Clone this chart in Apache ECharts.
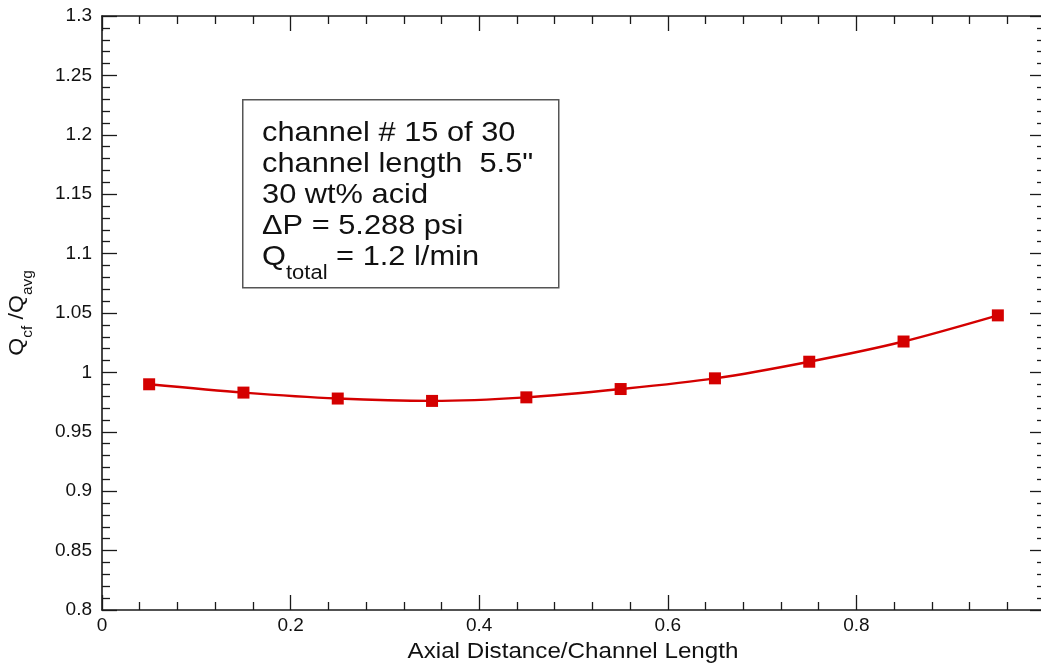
<!DOCTYPE html>
<html>
<head>
<meta charset="utf-8">
<script src="https://cdn.jsdelivr.net/npm/echarts@6/dist/echarts.min.js"></script>
<style>
  html, body { margin: 0; padding: 0; background: #fff; }
  #chart { width: 1041px; height: 668px; }
</style>
</head>
<body>
<div id="chart"></div>
<script>
// Axial positions along the channel (fraction of channel length)
const axialPositions = [0.05, 0.15, 0.25, 0.35, 0.45, 0.55, 0.65, 0.75, 0.85, 0.95];
// Normalised flow rate Qcf/Qavg at each position
const flowRatio = [0.990, 0.983, 0.978, 0.976, 0.979, 0.986, 0.995, 1.009, 1.026, 1.048];
// Notes shown in the annotation box
const noteLines = ['channel # 15 of 30', 'channel length  5.5"', '30 wt% acid', '\u0394P = 5.288 psi'];

const FONT = 'Liberation Sans, Arial, sans-serif';
const AXIS_COLOR = '#1a1a1a';
const STRETCH = 1.1;

const chart = echarts.init(document.getElementById('chart'), null, { renderer: 'canvas' });

function axisCommon(showLabels) {
  return {
    axisLine: { show: true, onZero: false, lineStyle: { color: AXIS_COLOR, width: 1.6 } },
    axisTick: { show: true, inside: true, length: 15, lineStyle: { color: AXIS_COLOR, width: 1.3 } },
    minorTick: { show: true, splitNumber: 5, length: 8, lineStyle: { color: AXIS_COLOR, width: 1.3 } },
    splitLine: { show: false },
    axisLabel: { show: showLabels }
  };
}

const points = axialPositions.map((x, i) => [x, flowRatio[i]]);

const option = {
  backgroundColor: '#fff',
  animation: false,
  grid: { left: 102, top: 16, width: 943, height: 594, containLabel: false, outerBoundsMode: 'none' },
  xAxis: [
    Object.assign(axisCommon(true), {
      type: 'value', min: 0, max: 1, interval: 0.2, position: 'bottom',
      axisLabel: {
        show: true, fontFamily: FONT, fontSize: 19, color: '#111', margin: 6,
        formatter: v => (v === 0 ? '0' : String(+v.toFixed(1)))
      }
    }),
    Object.assign(axisCommon(false), {
      type: 'value', min: 0, max: 1, interval: 0.2, position: 'top'
    })
  ],
  yAxis: [
    Object.assign(axisCommon(true), {
      type: 'value', min: 0.8, max: 1.3, interval: 0.05, position: 'left',
      axisLabel: {
        show: true, fontFamily: FONT, fontSize: 19, color: '#111', margin: 10,
        formatter: v => String(+v.toFixed(2))
      }
    }),
    Object.assign(axisCommon(false), {
      type: 'value', min: 0.8, max: 1.3, interval: 0.05, position: 'right'
    })
  ],
  series: [{
    type: 'line',
    data: points,
    smooth: 0.3,
    symbol: 'rect',
    symbolSize: 12,
    lineStyle: { color: '#d40000', width: 2.4 },
    itemStyle: { color: '#d40000' },
    z: 5
  }],
  graphic: [
    {
      type: 'rect', left: 242, top: 99, z: 10,
      shape: { width: 316, height: 188 },
      style: { fill: '#fff', stroke: '#555', lineWidth: 1.5 }
    },
    ...noteLines.map((t, i) => ({
      type: 'text', x: 262, y: 119 + i * 31, scaleX: STRETCH, z: 11,
      style: { text: t, fontFamily: FONT, fontSize: 28, fill: '#111' }
    })),
    {
      type: 'text', x: 262, y: 119 + 4 * 31, scaleX: STRETCH, z: 11,
      style: {
        text: '{m|Q}{s|total}{m| = 1.2 l/min}',
        fontFamily: FONT, fill: '#111',
        rich: {
          m: { fontFamily: FONT, fontSize: 28, lineHeight: 40, fill: '#111', verticalAlign: 'top' },
          s: { fontFamily: FONT, fontSize: 20, lineHeight: 20, fill: '#111', verticalAlign: 'bottom' }
        }
      }
    },
    // x axis title
    {
      type: 'text', x: 573, y: 652, scaleX: STRETCH, z: 11,
      style: {
        text: 'Axial Distance/Channel Length', align: 'center', verticalAlign: 'middle',
        fontFamily: FONT, fontSize: 22, fill: '#111'
      }
    },
    // y axis title
    {
      type: 'text', x: 21, y: 313, rotation: Math.PI / 2, scaleX: STRETCH, z: 11,
      style: {
        text: '{m|Q}{s|cf}{m| /Q}{s|avg}',
        align: 'center', verticalAlign: 'middle',
        fontFamily: FONT, fill: '#111',
        rich: {
          m: { fontFamily: FONT, fontSize: 21, lineHeight: 28, fill: '#111', verticalAlign: 'top' },
          s: { fontFamily: FONT, fontSize: 14, lineHeight: 14, fill: '#111', verticalAlign: 'bottom' }
        }
      }
    }
  ]
};

chart.setOption(option);
</script>
</body>
</html>
